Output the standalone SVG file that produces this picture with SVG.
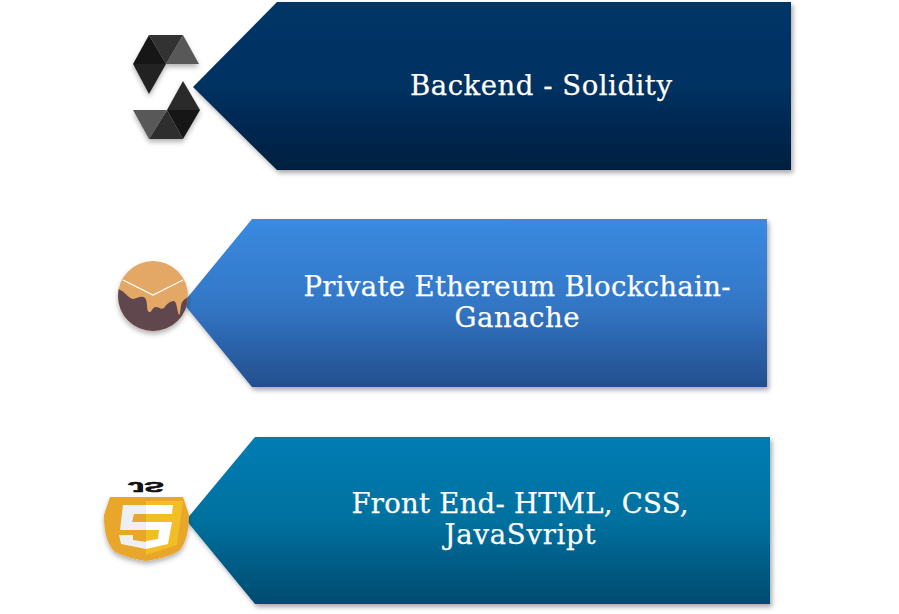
<svg xmlns="http://www.w3.org/2000/svg" width="899" height="614" viewBox="0 0 899 614">
<style>
.t{font-family:"DejaVu Serif","Liberation Serif",serif;font-size:27.5px;fill:#fff;stroke:#fff;stroke-width:0.25;text-anchor:middle}
.s{filter:url(#sh)}
</style>
<defs>
<filter id="sh" x="-10%" y="-10%" width="120%" height="125%"><feDropShadow dx="2" dy="3" stdDeviation="2.5" flood-color="#000" flood-opacity="0.35"/></filter>
<filter id="sh2" x="-20%" y="-20%" width="140%" height="150%"><feDropShadow dx="0" dy="3" stdDeviation="2.5" flood-color="#000" flood-opacity="0.3"/></filter>
<clipPath id="cc"><circle cx="153" cy="296" r="35"/></clipPath>
<linearGradient id="g1" x1="0" y1="0" x2="0" y2="1"><stop offset="0" stop-color="#003567"/><stop offset="0.5" stop-color="#003162"/><stop offset="1" stop-color="#001f3f"/></linearGradient>
<linearGradient id="g2" x1="0" y1="0" x2="0" y2="1"><stop offset="0" stop-color="#3a8ae2"/><stop offset="0.5" stop-color="#3377c6"/><stop offset="1" stop-color="#234f8e"/></linearGradient>
<linearGradient id="g3" x1="0" y1="0" x2="0" y2="1"><stop offset="0" stop-color="#007cb4"/><stop offset="0.5" stop-color="#00719f"/><stop offset="1" stop-color="#004a6f"/></linearGradient>
</defs>
<g id="node-solidity">
<polygon class="s" points="193,87 277,2 791,2 791,170 277,170" fill="url(#g1)"/>
<g filter="url(#sh2)">
<polygon points="149,35 133,64 166,64" fill="#181818"/>
<polygon points="149,35 183,35 166,64" fill="#303030"/>
<polygon points="183,35 199,64 166,64" fill="#595959"/>
<polygon points="133,64 166,64 149,94" fill="#232323"/>
<polygon points="183,81 167,110 200,110" fill="#2b2b2b"/>
<polygon points="167,110 200,110 183,139" fill="#161616"/>
<polygon points="167,110 183,139 149,139" fill="#2f2f2f"/>
<polygon points="133,110 167,110 149,139" fill="#595959"/>
</g>
<text class="t" x="541" y="95" textLength="262" lengthAdjust="spacing">Backend - Solidity</text>
</g>
<g id="node-ganache">
<polygon class="s" points="183,303 252,219 767,219 767,387 252,387" fill="url(#g2)"/>
<g filter="url(#sh2)">
<circle cx="153" cy="296" r="35" fill="#e3a865"/>
<path clip-path="url(#cc)" d="M116,288 C124,290 128,298 133,299 C137,298 142,295 145,298 C148,301 146,311 149,312 C152,313 152,307 156,307 C159,307 161,310 164,308 C167,304 170,301 174,301 C177,302 177,311 179,315 C181,314 180,303 183,301 C185,299 187,297 190,297 L190,335 L116,335 Z" fill="#5f464d"/>
<path d="M123,280 L153,295 L183,280" fill="none" stroke="#fff" stroke-width="1.200"/>
</g>
<text class="t" x="517" y="296" textLength="427" lengthAdjust="spacing">Private Ethereum Blockchain-</text>
<text class="t" x="517" y="327" textLength="125" lengthAdjust="spacing">Ganache</text>
</g>
<g id="node-frontend">
<polygon class="s" points="186,520 255,437 770,437 770,604 255,604" fill="url(#g3)"/>
<g filter="url(#sh2)">
<path d="M110,497 L183,497 L189,515 C189,530 186,542 180,550 C172,556 158,559 146,561 C134,559 122,556 114,551 C106,542 104,530 104,515 Z" fill="#e8a629"/>
<polygon points="146,501 183,501 177,545 146,555" fill="#f3bd25"/>
<polygon points="123,505 146,505 146,514 134,514 132,522 146,522 146,530 120,530" fill="#eeeff1"/>
<polygon points="119,535 133,535 133,540 146,542 146,549 121,544" fill="#eeeff1"/>
<polygon points="146,505 173,505 172,514 146,514" fill="#fff"/>
<polygon points="146,522 172,522 168,544 146,549 146,541 158,539 159,530 146,530" fill="#fff"/>
</g>
<text transform="translate(146 482) scale(2.1 -1)" font-family="Liberation Sans,sans-serif" font-weight="700" font-size="14" text-anchor="middle" fill="#111" stroke="#111" stroke-width="0.6">JS</text>
<text class="t" x="520" y="513" textLength="337" lengthAdjust="spacing">Front End- HTML, CSS,</text>
<text class="t" x="520" y="544" textLength="151" lengthAdjust="spacing">JavaSvript</text>
</g>
</svg>
